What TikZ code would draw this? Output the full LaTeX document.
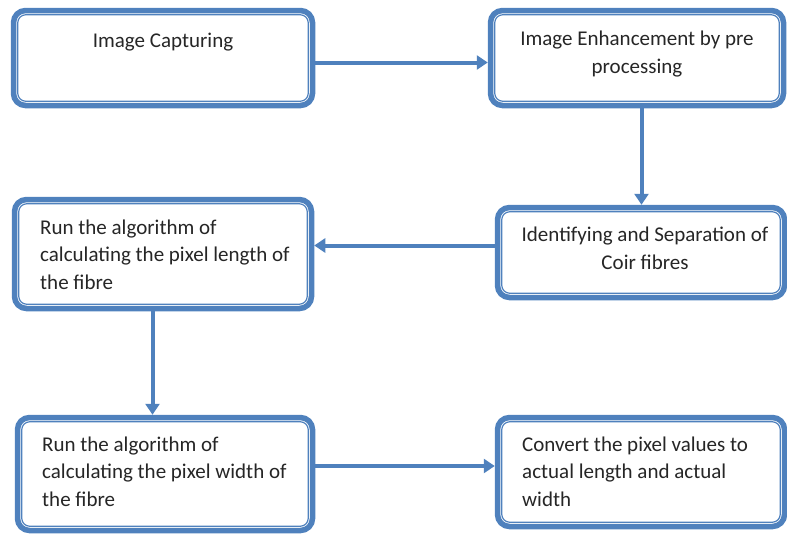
\documentclass[tikz,border=0pt]{standalone}
\usepackage{fontspec}
\setmainfont{Carlito}
\usetikzlibrary{arrows.meta}
\definecolor{boxblue}{RGB}{79,129,189}
\tikzset{
  box/.style={draw=boxblue, line width=5.5pt, rounded corners=12pt, inner sep=0pt, fill=white},
  innerline/.style={draw=boxblue, line width=1.2pt, rounded corners=8pt},
  txt/.style={inner sep=0pt, font=\fontsize{21}{27.5}\selectfont, text=black!85},
  conn/.style={draw=boxblue, line width=4pt, -{Triangle[width=14pt,length=11pt]}}
}
\begin{document}
\begin{tikzpicture}[x=1pt,y=-1pt]
\useasboundingbox (0,0) rectangle (787,533);
% boxes (stroke centres)
\node[box, minimum width=299pt, minimum height=95pt] (b1) at (163,58) {};
\node[box, minimum width=293pt, minimum height=95pt] (b2) at (637,58) {};
\node[box, minimum width=297pt, minimum height=109pt] (b3) at (163,254) {};
\node[box, minimum width=287pt, minimum height=90pt] (b4) at (641,252.5) {};
\node[box, minimum width=295pt, minimum height=113pt] (b5) at (165,474) {};
\node[box, minimum width=287pt, minimum height=109pt] (b6) at (641,472) {};
% inner thin lines
\foreach \b in {b1,b2,b3,b4,b5,b6}{
  \draw[innerline] ([shift={(7,7)}]\b.north west) rectangle ([shift={(-7,-7)}]\b.south east);
}
% texts (base = baseline of last line)
\node[txt, anchor=base] (t1) at (163,47) {Image Capturing};
\node[txt, anchor=base, align=center] (t2) at (637,73) {Image Enhancement by pre\\processing};
\node[txt, anchor=base, align=center] (t4) at (645,269) {Identifying and Separation of\\Coir fibres};
\node[txt, anchor=base west, align=left] (t3) at (40,289) {Run the algorithm of\\calculating the pixel length of\\the fibre};
\node[txt, anchor=base west, align=left] (t5) at (42,506) {Run the algorithm of\\calculating the pixel width of\\the fibre};
\node[txt, anchor=base west, align=left] (t6) at (522,506) {Convert the pixel values to\\actual length and actual\\width};
% connectors
\draw[conn] (b1.east |- 0,62.5) -- (b2.west |- 0,62.5);
\draw[conn] (b2.south -| 641.5,0) -- (b4.north -| 641.5,0);
\draw[conn] (b4.west |- 0,245.5) -- (b3.east |- 0,245.5);
\draw[conn] (b3.south -| 152.5,0) -- (b5.north -| 152.5,0);
\draw[conn] (b5.east |- 0,466) -- (b6.west |- 0,466);
\end{tikzpicture}
\end{document}
